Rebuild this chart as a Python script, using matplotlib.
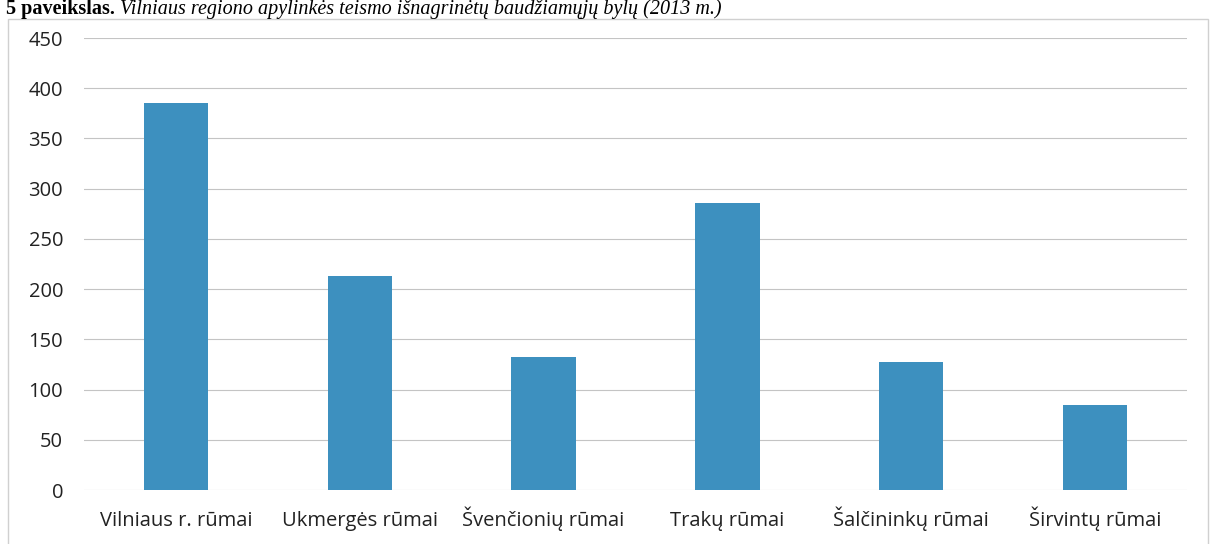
import matplotlib
matplotlib.use("Agg")
import matplotlib.pyplot as plt
from matplotlib.patches import Rectangle

categories = ["Vilniaus r. rūmai", "Ukmergės rūmai", "Švenčionių rūmai",
              "Trakų rūmai", "Šalčininkų rūmai", "Širvintų rūmai"]
values = [385, 213, 132, 286, 127, 85]
yticks = [0, 50, 100, 150, 200, 250, 300, 350, 400, 450]

W, H = 1216, 544
fig = plt.figure(figsize=(W / 100, H / 100), dpi=100)
fig.patch.set_facecolor("white")

# chart frame
fig.patches.append(Rectangle((8 / W, -0.05), 1200 / W, 1.05 - 19 / H,
                             transform=fig.transFigure, fill=False,
                             edgecolor="#d0d0d0", linewidth=1.0))

ax = fig.add_axes([84 / W, 1 - 490 / H, (1187 - 84) / W, (490 - 38) / H])
x = list(range(len(categories)))
ax.bar(x, values, width=0.35, color="#3d90bf", zorder=3)
ax.set_xlim(-0.5, len(categories) - 0.5)
ax.set_ylim(0, 450)
ax.set_yticks(yticks)
ax.set_xticks(x)
ax.set_xticklabels(categories)
ax.grid(axis="y", color="#c4c4c4", linewidth=0.8, zorder=0)
for s in ax.spines.values():
    s.set_visible(False)
ax.tick_params(axis="both", length=0, labelsize=14.5, colors="#222222")
ax.tick_params(axis="y", pad=15)
ax.tick_params(axis="x", pad=26)
for lab in ax.get_xticklabels() + ax.get_yticklabels():
    lab.set_fontfamily("Open Sans")
for lab in ax.get_xticklabels():
    lab.set_verticalalignment("baseline")

# caption at top
t1 = fig.text(0.005, 1 - 14 / H, "5 paveikslas. ", fontsize=14.5, fontweight="bold",
              family="Liberation Serif", va="baseline", ha="left")
fig.canvas.draw()
bb = t1.get_window_extent()
fig.text(bb.x1 / W, 1 - 14 / H,
         "Vilniaus regiono apylinkės teismo išnagrinėtų baudžiamųjų bylų (2013 m.)",
         fontsize=14.5, style="italic", family="Liberation Serif",
         va="baseline", ha="left")

fig.savefig("out.png", dpi=100)
